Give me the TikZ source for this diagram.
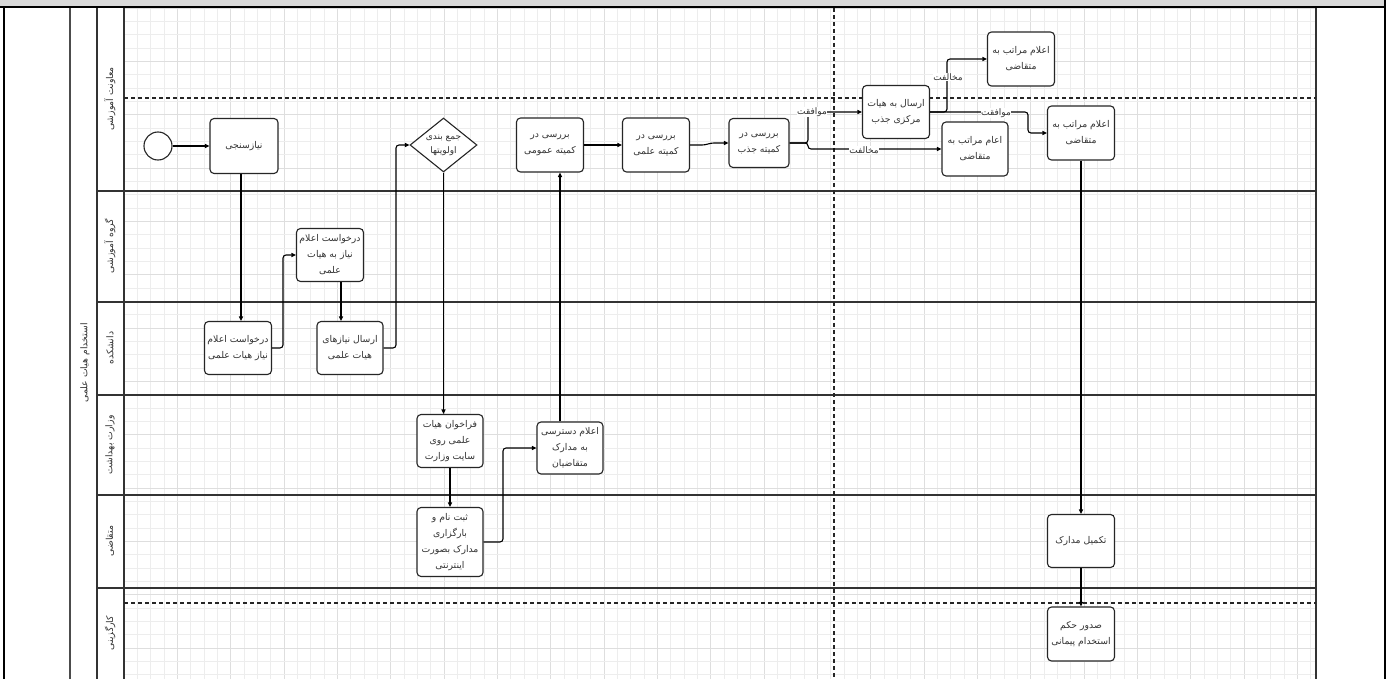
\documentclass[tikz,border=0pt]{standalone}
\usepackage{fontspec}
\setmainfont{DejaVu Sans}[Script=Arabic]
\TeXXeTstate=1
\usetikzlibrary{arrows.meta,shapes.geometric,calc}
\newcommand{\fa}[1]{\beginR #1\endR}
\begin{document}
\begin{tikzpicture}[x=1pt,y=-1pt,
  box/.style={draw=black!85,line width=1.1pt,rounded corners=4pt,fill=white,align=center,inner sep=0.5pt,minimum width=67pt,minimum height=54pt,font=\fontsize{9.3}{16}\selectfont,text=black!80},
  lane/.style={draw=black!80,line width=1.2pt},
  dline/.style={draw=black!85,line width=1.1pt,dash pattern=on 4pt off 3pt},
  conn/.style={draw=black,line width=1.1pt,rounded corners=3pt,-{Triangle[length=4.5pt,width=4pt]}},
  elab/.style={fill=white,inner sep=0.5pt,font=\fontsize{9}{10}\selectfont,text=black!80},
  lanelab/.style={rotate=90,font=\fontsize{9.3}{10}\selectfont,text=black!80},
]
\useasboundingbox (0,0) rectangle (1393,679);
\fill[white] (0,0) rectangle (1393,679);
% grid
\foreach \i in {0,...,89} {
  \pgfmathsetmacro{\gx}{124+\i*13.333}
  \pgfmathtruncatemacro{\m}{mod(\i,4)}
  \ifnum\m=0 \draw[black!13,line width=0.6pt] (\gx,8) -- (\gx,679);
  \else \draw[black!7,line width=0.6pt] (\gx,8) -- (\gx,679); \fi
}
\foreach \j in {0,...,51} {
  \pgfmathsetmacro{\gy}{8+\j*13.333}
  \pgfmathtruncatemacro{\m}{mod(\j,4)}
  \ifnum\m=0 \draw[black!13,line width=0.6pt] (124,\gy) -- (1316,\gy);
  \else \draw[black!7,line width=0.6pt] (124,\gy) -- (1316,\gy); \fi
}
% frame
\fill[black!15] (0,0) rectangle (1385,7);
\draw[line width=2pt] (0,7.5) -- (1386,7.5);
\draw[line width=2.5pt] (4,7) -- (4,679);
\draw[line width=2.5pt] (1385,0) -- (1385,679);
\draw[line width=2pt,black!70] (70,8) -- (70,679);
\draw[lane] (97,8) -- (97,679);
\draw[lane] (124,8) -- (124,679);
\draw[lane] (1316,8) -- (1316,679);
\foreach \yy in {191,302,395,495,588} { \draw[lane] (97,\yy) -- (1316,\yy); }
\draw[dline] (124,98) -- (1316,98);
\draw[dline] (124,603) -- (1316,603);
\draw[dline] (834,8) -- (834,679);
% labels
\node[lanelab] (pool) at (85,363) {\fa{استخدام هیات علمی}};
\node[lanelab] (l1) at (110,99) {\fa{معاونت آموزشی}};
\node[lanelab] (l2) at (110,246) {\fa{گروه آموزشی}};
\node[lanelab] (l3) at (110,348) {\fa{دانشکده}};
\node[lanelab] (l4) at (110,445) {\fa{وزارت بهداشت}};
\node[lanelab] (l5) at (110,541) {\fa{متقاضی}};
\node[lanelab] (l6) at (110,633) {\fa{کارگزینی}};
% nodes
\node[draw=black!85,line width=1.1pt,circle,fill=white,minimum size=28pt,inner sep=0pt] (start) at (158,146) {};
\node[box,minimum width=68pt,minimum height=55pt] (t1) at (244,146) {\fa{نیازسنجی}};
\node[draw=black!85,line width=1.1pt,diamond,shape aspect=1.25,fill=white,minimum width=67pt,minimum height=54pt,inner sep=-4pt,align=center,font=\fontsize{9}{14}\selectfont,text=black!80] (dia) at (443.5,145) {\fa{جمع بندی}\\\fa{اولویتها}};
\node[box] (tomumi) at (550,145) {\fa{بررسی در}\\\fa{کمیته عمومی}};
\node[box] (telmi) at (656,145) {\fa{بررسی در}\\\fa{کمیته علمی}};
\node[box,minimum width=60pt,minimum height=49pt] (tjazb) at (759,143) {\fa{بررسی در}\\\fa{کمیته جذب}};
\node[box,minimum height=53pt] (tersal) at (896,112) {\fa{ارسال به هیات}\\\fa{مرکزی جذب}};
\node[box] (ttop) at (1021,59) {\fa{اعلام مراتب به}\\\fa{متقاضی}};
\node[box,minimum width=66pt] (tmid) at (975,149) {\fa{اعام مراتب به}\\\fa{متقاضی}};
\node[box] (tright) at (1081,133) {\fa{اعلام مراتب به}\\\fa{متقاضی}};
\node[box,minimum height=53pt] (tg) at (330,255) {\fa{درخواست اعلام}\\\fa{نیاز به هیات}\\\fa{علمی}};
\node[box,minimum height=53pt] (td1) at (238,348) {\fa{درخواست اعلام}\\\fa{نیاز هیات علمی}};
\node[box,minimum width=66pt,minimum height=53pt] (td2) at (350,348) {\fa{ارسال نیازهای}\\\fa{هیات علمی}};
\node[box,minimum width=66pt,minimum height=53pt] (tv1) at (450,441) {\fa{فراخوان هیات}\\\fa{علمی روی}\\\fa{سایت وزارت}};
\node[box,minimum width=66pt,minimum height=52pt] (tv2) at (570,448) {\fa{اعلام دسترسی}\\\fa{به مدارک}\\\fa{متقاضیان}};
\node[box,minimum width=66pt,minimum height=69pt] (tm1) at (450,542) {\fa{ثبت نام و}\\\fa{بارگزاری}\\\fa{مدارک بصورت}\\\fa{اینترنتی}};
\node[box,minimum height=53pt] (tm2) at (1081,541) {\fa{تکمیل مدارک}};
\node[box] (tk) at (1081,634) {\fa{صدور حکم}\\\fa{استخدام پیمانی}};
% bus coordinates
\coordinate (b1) at (241,0);
\coordinate (b2) at (283,0);
\coordinate (b3) at (341,0);
\coordinate (b4) at (396,0);
\coordinate (b5) at (503,0);
\coordinate (b6) at (560,0);
\coordinate (b7) at (808,0);
\coordinate (b8) at (947,0);
\coordinate (b9) at (1028,0);
\coordinate (j1) at (705,145);
\coordinate (j2) at (711,143);
% connectors
\draw[conn] (start) -- (t1);
\draw[conn] (t1.south -| b1) -- (td1.north -| b1);
\draw[conn] (td1.east) -- (td1.east -| b2) -- (b2 |- tg.west) -- (tg.west);
\draw[conn] (tg.south -| b3) -- (td2.north -| b3);
\draw[conn] (td2.east) -- (td2.east -| b4) -- (b4 |- dia.west) -- (dia.west);
\draw[conn] (dia.south) -- (dia.south |- tv1.north);
\draw[conn] (tv1.south) -- (tm1.north);
\draw[conn] (tm1.east) -- (tm1.east -| b5) -- (b5 |- tv2.west) -- (tv2.west);
\draw[conn] (tv2.north -| b6) -- (tomumi.south -| b6);
\draw[conn] (tomumi.east) -- (telmi.west);
\draw[conn] (telmi.east) -- (j1) -- (j2) -- (tjazb.west);
\draw[conn] (tjazb.east) -- (tjazb.east -| b7) -- (b7 |- tersal.west) -- (tersal.west);
\draw[conn] (tjazb.east) -- (tjazb.east -| b7) -- (b7 |- tmid.west) -- (tmid.west);
\draw[conn] (tersal.east) -- (tersal.east -| b8) -- (b8 |- ttop.west) -- (ttop.west);
\draw[conn] (tersal.east) -- (tersal.east -| b9) -- (b9 |- tright.west) -- (tright.west);
\draw[conn] (tright.south) -- (tm2.north);
\draw[conn] (tm2.south) -- (tk.north);
% edge labels
\node[elab] (lab1) at (812,112) {\fa{موافقت}};
\node[elab] (lab2) at (864,150) {\fa{مخالفت}};
\node[elab] (lab3) at (948,77) {\fa{مخالفت}};
\node[elab] (lab4) at (996,113) {\fa{موافقت}};
\end{tikzpicture}
\end{document}
